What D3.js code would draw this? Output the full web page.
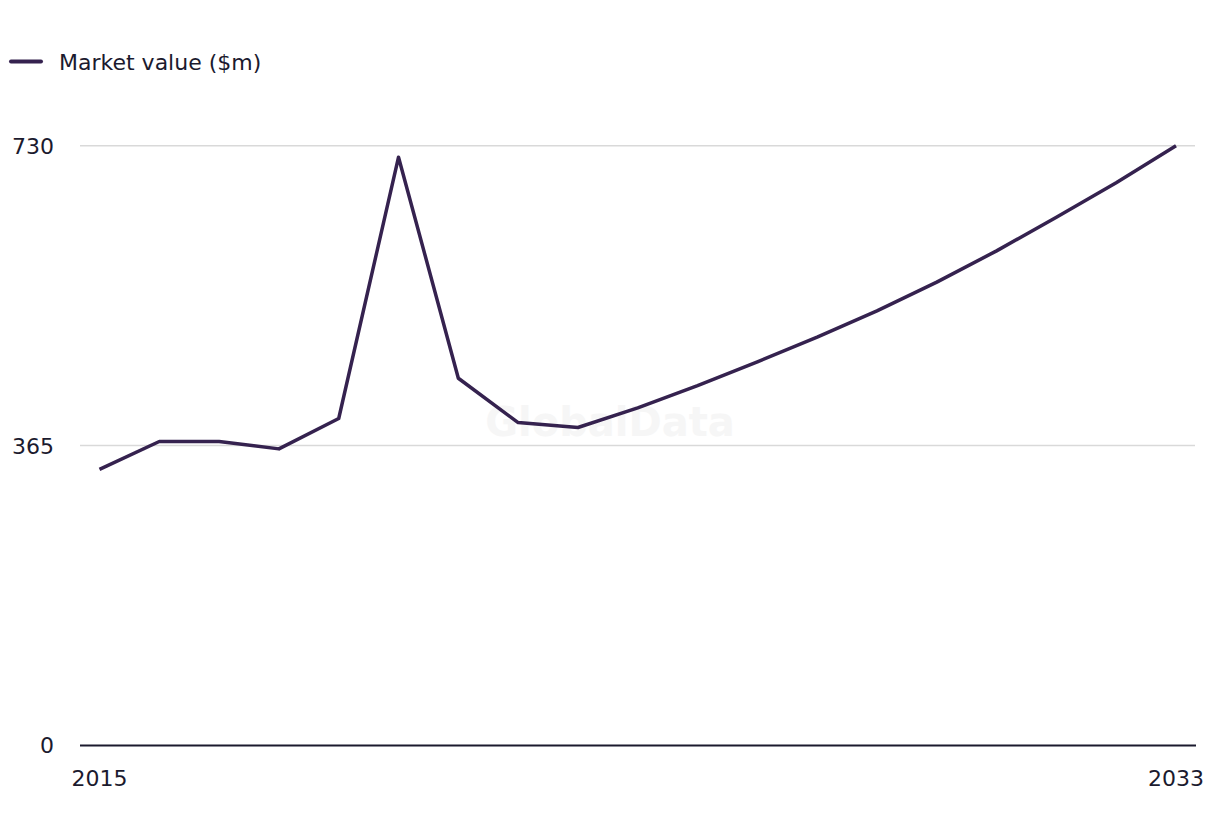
<!DOCTYPE html>
<html>
<head>
<meta charset="utf-8">
<script src="https://cdn.jsdelivr.net/npm/d3@7"></script>
<style>
  html, body { margin: 0; padding: 0; background: #fff; }
  text { font-family: "DejaVu Sans", sans-serif; }
</style>
</head>
<body>
<svg id="chart"></svg>
<script>
const WIDTH = 1220;
const HEIGHT = 836;

const years = [2015, 2016, 2017, 2018, 2019, 2020, 2021, 2022, 2023, 2024,
  2025, 2026, 2027, 2028, 2029, 2030, 2031, 2032, 2033];
const marketValue = [336, 370, 370, 361, 398, 716, 447, 393, 387, 411,
  438, 467, 497, 529, 564, 602, 643, 685, 730];
const yTicks = [0, 365, 730];
const xTickLabels = [2015, 2033];
const seriesName = 'Market value ($m)';

const LINE_COLOR = '#35224f';
const TEXT_COLOR = '#1b1a2e';
const FONT_SIZE = 22;

const svg = d3.select('#chart')
  .attr('width', WIDTH)
  .attr('height', HEIGHT);

const x = d3.scaleLinear()
  .domain([2015, 2033])
  .range([99.5, 1176]);

const y = d3.scaleLinear()
  .domain([0, 730])
  .range([745.5, 145.7]);

// watermark
svg.append('text')
  .attr('x', 610)
  .attr('y', 436)
  .attr('text-anchor', 'middle')
  .attr('font-size', 40)
  .attr('font-weight', 'bold')
  .attr('fill', '#f6f6f6')
  .text('GlobalData');

// gridlines (not at zero, the axis covers it)
svg.append('g')
  .selectAll('line')
  .data(yTicks.filter(d => d > 0))
  .enter()
  .append('line')
  .attr('x1', 80)
  .attr('x2', 1195)
  .attr('y1', d => y(d))
  .attr('y2', d => y(d))
  .attr('stroke', '#d9d9d9')
  .attr('stroke-width', 1.5);

// y labels
svg.append('g')
  .selectAll('text')
  .data(yTicks)
  .enter()
  .append('text')
  .attr('x', 54)
  .attr('y', d => y(d))
  .attr('dy', '0.36em')
  .attr('text-anchor', 'end')
  .attr('font-size', FONT_SIZE)
  .attr('fill', TEXT_COLOR)
  .text(d => d);

// x axis line
svg.append('line')
  .attr('x1', 80)
  .attr('x2', 1196)
  .attr('y1', y(0))
  .attr('y2', y(0))
  .attr('stroke', TEXT_COLOR)
  .attr('stroke-width', 2);

// x labels
svg.append('g')
  .selectAll('text')
  .data(xTickLabels)
  .enter()
  .append('text')
  .attr('x', d => x(d))
  .attr('y', 786)
  .attr('text-anchor', 'middle')
  .attr('font-size', FONT_SIZE)
  .attr('fill', TEXT_COLOR)
  .text(d => d);

// series line
const line = d3.line()
  .x((d, i) => x(years[i]))
  .y(d => y(d));

svg.append('path')
  .datum(marketValue)
  .attr('d', line)
  .attr('fill', 'none')
  .attr('stroke', LINE_COLOR)
  .attr('stroke-width', 3.5)
  .attr('stroke-linejoin', 'round');

// legend
svg.append('line')
  .attr('x1', 11)
  .attr('x2', 41)
  .attr('y1', 61.5)
  .attr('y2', 61.5)
  .attr('stroke', LINE_COLOR)
  .attr('stroke-width', 4)
  .attr('stroke-linecap', 'round');

svg.append('text')
  .attr('x', 59)
  .attr('y', 69.5)
  .attr('font-size', FONT_SIZE)
  .attr('fill', TEXT_COLOR)
  .text(seriesName);
</script>
</body>
</html>
